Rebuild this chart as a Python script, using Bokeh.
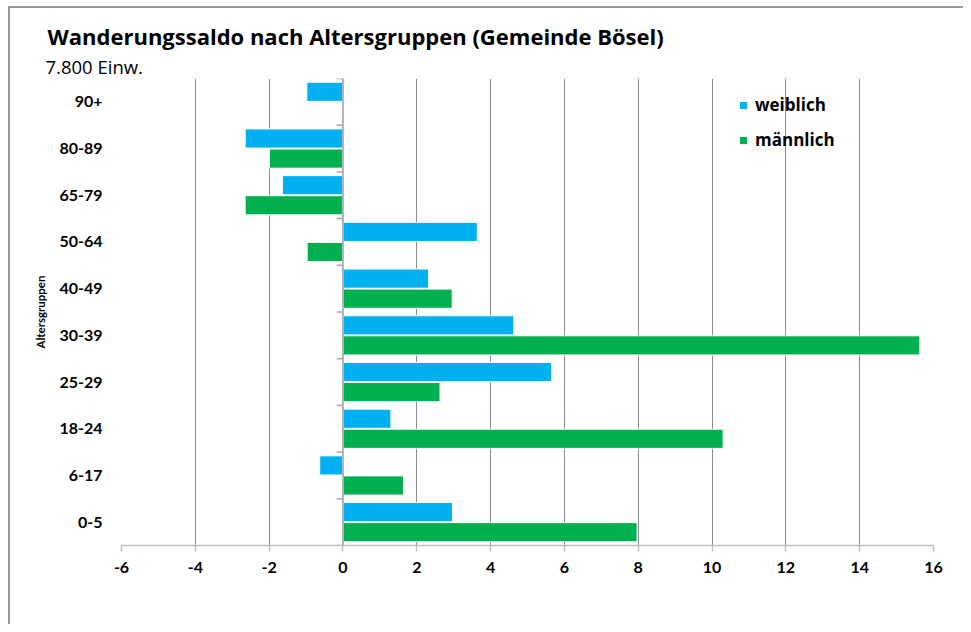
from bokeh.plotting import figure
from bokeh.models import (FactorRange, Range1d, FixedTicker, Span, Title, Legend,
                          LegendItem, ColumnDataSource, InlineStyleSheet)
from bokeh.transform import dodge
from bokeh.embed import file_html
from bokeh.resources import INLINE

# ---- data ----
categories = ["0-5", "6-17", "18-24", "25-29", "30-39", "40-49", "50-64", "65-79", "80-89", "90+"]
weiblich = [2.97, -0.63, 1.30, 5.65, 4.63, 2.32, 3.64, -1.64, -2.65, -0.98]
maennlich = [7.97, 1.64, 10.30, 2.63, 15.63, 2.96, -0.97, -2.65, -1.99, 0.0]
x_ticks = [-6, -4, -2, 0, 2, 4, 6, 8, 10, 12, 14, 16]
series_names = ["weiblich", "männlich"]
title_text = "Wanderungssaldo nach Altersgruppen (Gemeinde Bösel)"
subtitle_text = "7.800 Einw."
y_label = "Altersgruppen"

FONT = "Lato"
FONT2 = "Open Sans"
BLUE = "#00B0F0"
GREEN = "#00B050"

src = ColumnDataSource(dict(cat=categories, w=weiblich, m=maennlich))

p = figure(width=963, height=624,
           y_range=FactorRange(*categories),
           x_range=Range1d(x_ticks[0], x_ticks[-1]),
           output_backend="svg", toolbar_location=None,
           min_border_left=121, min_border_right=30,
           min_border_top=78, min_border_bottom=79)
p.outline_line_color = None
p.background_fill_color = "white"
p.border_fill_color = "white"

# chart-area border: only its left and top edges fall inside the window
p.stylesheets = [InlineStyleSheet(css="""
:host::before {
  content: ""; position: absolute; left: 8px; top: 6px; bottom: 0; width: 1.5px;
  background: #9a9a9a; pointer-events: none; z-index: 100;
}
:host::after {
  content: ""; position: absolute; left: 8px; top: 6px; right: 0; height: 1.5px;
  background: #9a9a9a; pointer-events: none; z-index: 100;
}
""")]

# bars
rb = p.hbar(y=dodge("cat", 0.215, range=p.y_range), left=0, right="w", height=0.41,
            fill_color=BLUE, line_color="white", line_width=1, source=src)
rg = p.hbar(y=dodge("cat", -0.215, range=p.y_range), left=0, right="m", height=0.41,
            fill_color=GREEN, line_color="white", line_width=1, source=src)

# zero axis line with category tick marks
p.add_layout(Span(location=0, dimension="height", line_color="#b3b3b3", line_width=2))
p.segment(x0=0, x1=-0.17, y0=dodge("cat", -0.5, range=p.y_range),
          y1=dodge("cat", -0.5, range=p.y_range), line_color="#a6a6a6", line_width=1.5,
          source=src)
top_src = ColumnDataSource(dict(cat=[categories[-1]]))
p.segment(x0=0, x1=-0.17, y0=dodge("cat", 0.5, range=p.y_range),
          y1=dodge("cat", 0.5, range=p.y_range), line_color="#a6a6a6", line_width=1.5,
          source=top_src)

# grid
p.xgrid.ticker = FixedTicker(ticks=x_ticks)
p.xgrid.grid_line_color = "#8c8c8c"
p.xgrid.grid_line_width = 1
p.ygrid.grid_line_color = None

# x axis
xa = p.xaxis[0]
xa.ticker = FixedTicker(ticks=x_ticks)
xa.major_label_overrides = {t: str(t) for t in x_ticks}
xa.axis_line_color = "#bfbfbf"
xa.axis_line_width = 1.5
xa.major_tick_line_color = "#bfbfbf"
xa.major_tick_line_width = 1.5
xa.major_tick_out = 6
xa.major_tick_in = 0
xa.minor_tick_line_color = None
xa.major_label_standoff = 10
xa.major_label_text_font = FONT
xa.major_label_text_font_style = "bold"
xa.major_label_text_font_size = "16px"
xa.major_label_text_color = "black"

# y axis
ya = p.yaxis[0]
ya.axis_line_color = None
ya.major_tick_line_color = None
ya.minor_tick_line_color = None
ya.major_label_standoff = 13
ya.major_label_text_font = FONT
ya.major_label_text_font_style = "bold"
ya.major_label_text_font_size = "16px"
ya.major_label_text_color = "black"
ya.axis_label = y_label
ya.axis_label_text_font = FONT
ya.axis_label_text_font_style = "bold"
ya.axis_label_text_font_size = "11.5px"
ya.axis_label_text_color = "black"
ya.axis_label_standoff = 9

# titles
p.add_layout(Title(text=subtitle_text, align="left", offset=-76, standoff=0,
                   text_font=FONT2, text_font_size="18.5px", text_font_style="normal",
                   text_color="black"), "above")
p.add_layout(Title(text=title_text, align="left", offset=-74, standoff=1,
                   text_font=FONT2, text_font_size="22px", text_font_style="bold",
                   text_color="black"), "above")

# legend
legend = Legend(items=[LegendItem(label=series_names[0], renderers=[rb]),
                       LegendItem(label=series_names[1], renderers=[rg])],
                location=(617, 394), orientation="vertical",
                glyph_width=10, glyph_height=10, label_height=20, spacing=12,
                padding=0, margin=0, label_standoff=7,
                label_text_font=FONT2, label_text_font_style="bold",
                label_text_font_size="17px", label_text_color="black",
                border_line_color=None, background_fill_alpha=0)
p.add_layout(legend, "center")

open("out.html", "w").write(file_html(p, INLINE))
